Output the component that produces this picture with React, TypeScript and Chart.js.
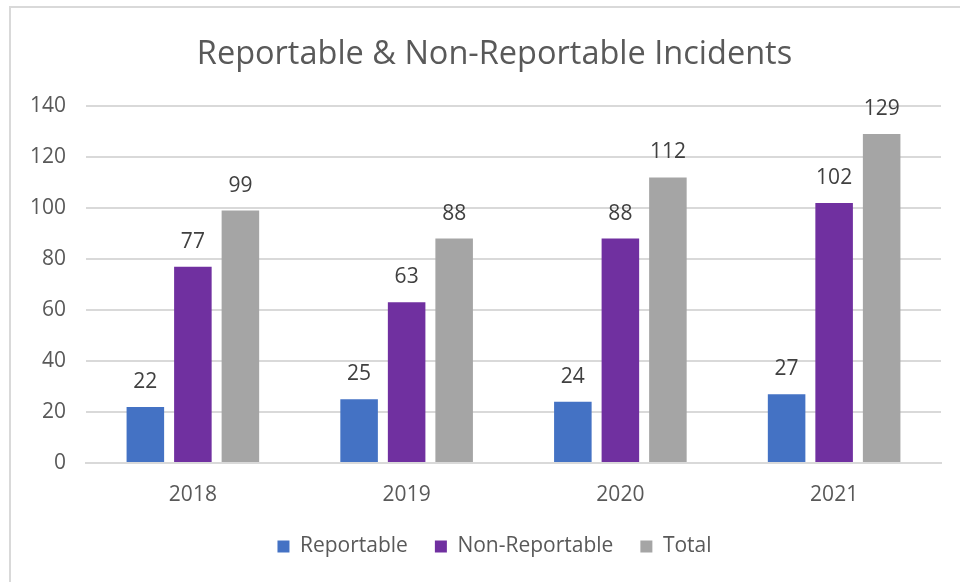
import React, { useEffect, useRef } from "react";
import { Chart, registerables, LinearScale } from "chart.js";

class LinearNoClip extends LinearScale {
  static id = "linearNoClip";
  static defaults = LinearScale.defaults;
  _computeLabelArea(): any {
    return undefined;
  }
}

Chart.register(...registerables, LinearNoClip);

const categories = ["2018", "2019", "2020", "2021"];
const reportable = [22, 25, 24, 27];
const nonReportable = [77, 63, 88, 102];
const total = [99, 88, 112, 129];
const seriesNames = ["Reportable", "Non-Reportable", "Total"];
const seriesColors = ["#4472C4", "#7030A0", "#A5A5A5"];
const titleText = "Reportable & Non-Reportable Incidents";

const FONT = "'Open Sans', 'DejaVu Sans', sans-serif";
const TEXT = "#595959";

const dataLabels = {
  id: "dataLabels",
  afterDatasetsDraw(chart: any) {
    const ctx = chart.ctx;
    ctx.save();
    ctx.font = `21px ${FONT}`;
    ctx.fillStyle = "#404040";
    ctx.textAlign = "center";
    ctx.textBaseline = "middle";
    chart.data.datasets.forEach((ds: any, i: number) => {
      const meta = chart.getDatasetMeta(i);
      meta.data.forEach((el: any, j: number) => {
        ctx.fillText(String(ds.data[j]), el.x, el.y - 25);
      });
    });
    ctx.restore();
  },
};

export default function App() {
  const ref = useRef<HTMLCanvasElement>(null);
  useEffect(() => {
    if (!ref.current) return;
    const chart = new Chart(ref.current, {
      type: "bar",
      data: {
        labels: categories,
        datasets: [reportable, nonReportable, total].map((d, i) => ({
          label: seriesNames[i],
          data: d,
          backgroundColor: seriesColors[i],
          borderWidth: 0,
          categoryPercentage: 0.667,
          barPercentage: 0.79,
        })),
      },
      options: {
        animation: false,
        responsive: false,
        maintainAspectRatio: false,
        layout: { padding: { left: 48, right: 19, top: 0, bottom: 15 } },
        plugins: {
          title: {
            display: true,
            text: titleText,
            color: TEXT,
            font: { family: FONT, size: 32.5, weight: "normal" },
            padding: { top: 35, bottom: 32 },
          },
          legend: {
            position: "bottom",
            labels: {
              color: TEXT,
              font: { family: FONT, size: 21 },
              boxWidth: 12,
              boxHeight: 12,
              padding: 27,
            },
          },
          tooltip: { enabled: false },
        },
        scales: {
          x: {
            grid: { display: false, drawTicks: false },
            border: { display: true, color: "#D9D9D9", width: 2 },
            ticks: { color: TEXT, font: { family: FONT, size: 21 }, padding: 19 },
            afterFit(scale: any) {
              scale.height = 46;
            },
          },
          y: {
            type: "linearNoClip" as any,
            min: 0,
            max: 140,
            ticks: { stepSize: 20, color: TEXT, font: { family: FONT, size: 21 }, padding: 20 },
            grid: { color: "#D9D9D9", lineWidth: 2, drawTicks: false },
            border: { display: false },
            afterFit(scale: any) {
              scale.width = 38;
            },
          },
        },
      },
      plugins: [dataLabels],
    });
    return () => chart.destroy();
  }, []);
  return (
    <div>
      <div
        style={{
          position: "fixed",
          left: 9,
          top: 6,
          width: 2000,
          height: 2000,
          borderLeft: "2px solid #D9D9D9",
          borderTop: "2px solid #D9D9D9",
        }}
      />
      <canvas
        ref={ref}
        width={960}
        height={582}
        style={{ position: "fixed", left: 0, top: 0, width: 960, height: 582 }}
      />
    </div>
  );
}
